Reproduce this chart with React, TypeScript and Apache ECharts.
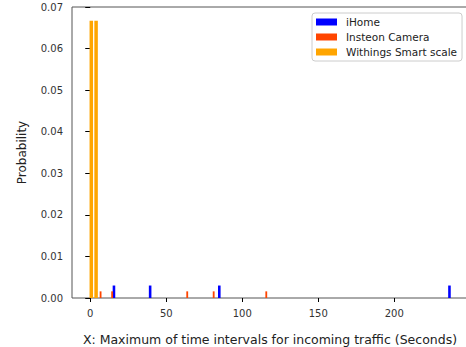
import React, { useEffect, useRef } from "react";
import * as echarts from "echarts";

const seriesNames = ["iHome", "Insteon Camera", "Withings Smart scale"];
const iHomeX = [15.6, 39.4, 84.9, 236.3];
const iHomeY = [0.003, 0.003, 0.003, 0.003];
const insteonX = [6.8, 14.4, 63.8, 81.2, 115.8];
const insteonY = [0.0016, 0.0016, 0.0016, 0.0016, 0.0016];
const withingsX = [0.7, 3.85];
const withingsY = [0.0667, 0.0667];
const xTicks = [0, 50, 100, 150, 200];

const FONT = "DejaVu Sans";

function pairs(xs: number[], ys: number[]) {
  return xs.map((x, i) => [x, ys[i]]);
}

function barSeries(name: string, data: number[][], color: string, w: number) {
  return {
    type: "custom",
    name,
    itemStyle: { color },
    encode: { x: 0, y: 1 },
    data,
    renderItem: (params: any, api: any) => {
      const x = api.value(0);
      const y = api.value(1);
      const p0 = api.coord([x - w / 2, y]);
      const p1 = api.coord([x + w / 2, 0]);
      return {
        type: "rect",
        shape: { x: p0[0], y: p0[1], width: p1[0] - p0[0], height: p1[1] - p0[1] },
        style: { fill: color },
      };
    },
  };
}

export default function App() {
  const ref = useRef<HTMLDivElement>(null);
  useEffect(() => {
    if (!ref.current) return;
    const chart = echarts.init(ref.current, null, { renderer: "svg" });
    chart.setOption({
      animation: false,
      backgroundColor: "#fff",
      grid: {
        left: 72,
        top: 7,
        width: 396,
        height: 291,
        show: true,
        borderColor: "#555",
        borderWidth: 1,
        containLabel: false,
        outerBoundsMode: "none",
      },
      legend: {
        orient: "vertical",
        left: 312,
        top: 13,
        icon: "rect",
        itemWidth: 21,
        itemHeight: 7,
        itemGap: 3,
        padding: [3, 5, 3, 4],
        borderColor: "#ccc",
        borderWidth: 1,
        borderRadius: 3,
        backgroundColor: "rgba(255,255,255,0.8)",
        textStyle: { fontFamily: FONT, fontSize: 10.5, color: "#222", lineHeight: 12, padding: [0, 0, 0, 4] },
        data: seriesNames,
      },
      xAxis: {
        type: "value",
        min: -12,
        max: 248.5,
        name: "X: Maximum of time intervals for incoming traffic (Seconds)",
        nameLocation: "middle",
        nameGap: 35,
        nameTextStyle: { fontFamily: FONT, fontSize: 12.5, color: "#222" },
        axisLine: { show: false },
        axisTick: { show: true, length: 4, lineStyle: { color: "#000" }, customValues: xTicks },
        axisLabel: { fontFamily: FONT, fontSize: 10, color: "#333", margin: 10, customValues: xTicks },
        splitLine: { show: false },
      },
      yAxis: {
        type: "value",
        min: 0,
        max: 0.07,
        interval: 0.01,
        name: "Probability",
        nameLocation: "middle",
        nameGap: 44,
        nameTextStyle: { fontFamily: FONT, fontSize: 12, color: "#222" },
        axisLine: { show: false },
        axisTick: { show: true, length: 5, lineStyle: { color: "#000" } },
        axisLabel: {
          fontFamily: FONT,
          fontSize: 10,
          color: "#333",
          margin: 9,
          formatter: (v: number) => v.toFixed(2),
        },
        splitLine: { show: false },
      },
      series: [
        barSeries(seriesNames[0], pairs(iHomeX, iHomeY), "#0000ff", 1.7),
        barSeries(seriesNames[1], pairs(insteonX, insteonY), "#ff4500", 1.2),
        barSeries(seriesNames[2], pairs(withingsX, withingsY), "#ffa500", 2.3),
      ],
    });
    return () => chart.dispose();
  }, []);
  return (
    <div
      ref={ref}
      style={{ position: "absolute", left: 0, top: 0, width: 466, height: 347 }}
    />
  );
}
